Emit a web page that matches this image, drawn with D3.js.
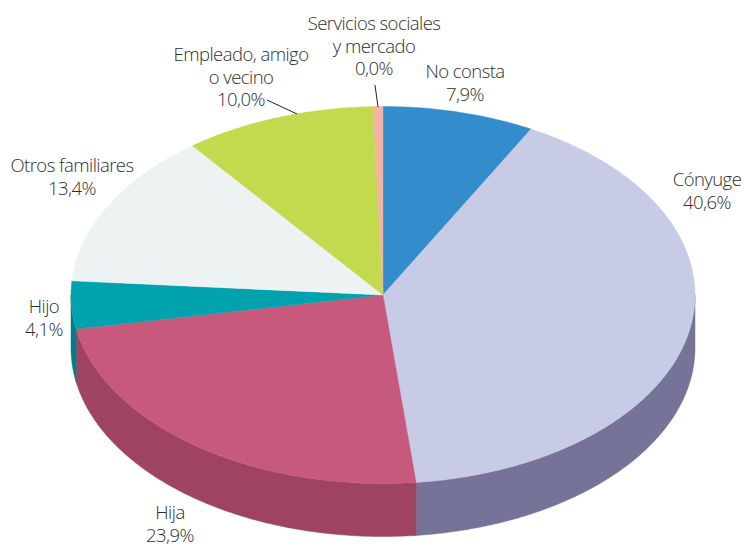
<!DOCTYPE html>
<html><head><meta charset="utf-8">
<script src="https://cdn.jsdelivr.net/npm/d3@7/dist/d3.min.js"></script>
<style>html,body{margin:0;padding:0;background:#fff}svg{display:block}
text{font-family:"Open Sans",sans-serif;font-weight:300;font-size:18.5px;letter-spacing:-0.55px;fill:#2e2e2e;text-anchor:middle}</style>
</head><body><svg id="c" width="744" height="546"></svg>
<script>
const categories = ["No consta","Cónyuge","Hija","Hijo","Otros familiares","Empleado, amigo o vecino","Servicios sociales y mercado"];
const percentLabels = ["7,9%","40,6%","23,9%","4,1%","13,4%","10,0%","0,0%"];
const sliceValues = [7.9,40.6,23.9,4.1,13.4,10.0,0.5];
const topColors = ["#338ccb","#c8cbe6","#c7597d","#00a3ad","#edf3f3","#c3da4f","#f4b3a4"];
const wallColors = ["#2a72a6","#767399","#9e4461","#007f87","#c2c8c8","#9fb240","#c79285"];

const labelLines = [["No consta"],["Cónyuge"],["Hija"],["Hijo"],["Otros familiares"],["Empleado, amigo","o vecino"],["Servicios sociales","y mercado"]];
const labelAnchors = [[465,78],[707,186],[170,519],[44,313],[72,172],[241,61],[374,30]];
const lineStep = 22.5;
const leaders = [[[267,100],[297,114]],[[375,85],[378,107]]];

const cx=383, cy=295, rx=312, ry=188.5, depth=53;
const svg=d3.select("#c");
const X=d3.scaleLinear().domain([-1,1]).range([cx-rx,cx+rx]);
const Y=d3.scaleLinear().domain([-1,1]).range([cy-ry,cy+ry]);
const pt=(a,dy=0)=>[X(Math.sin(a)),Y(-Math.cos(a))+dy];
const line=d3.line();
const arcs=d3.pie().sort(null).value(d=>d)(sliceValues);
const samples=(a0,a1)=>{const n=Math.max(2,Math.ceil((a1-a0)/0.01));return d3.range(n+1).map(i=>a0+(a1-a0)*i/n);};

// walls: only the front half of the ellipse (PI/2 .. 3PI/2) is visible
arcs.forEach((d,i)=>{
  const a0=Math.max(d.startAngle,Math.PI/2), a1=Math.min(d.endAngle,Math.PI*1.5);
  if(a1<=a0) return;
  const s=samples(a0,a1);
  const p=s.map(a=>pt(a)).concat(s.slice().reverse().map(a=>pt(a,depth)));
  svg.append("path").attr("d",line(p)+"Z").attr("fill",wallColors[i]).attr("stroke",wallColors[i]).attr("stroke-width",0.5);
});
// top
arcs.forEach((d,i)=>{
  const p=[[cx,cy]].concat(samples(d.startAngle,d.endAngle).map(a=>pt(a)));
  svg.append("path").attr("d",line(p)+"Z").attr("fill",topColors[i]).attr("stroke",topColors[i]).attr("stroke-width",0.4);
});
leaders.forEach(l=>svg.append("path").attr("d",line(l)).attr("stroke","#222").attr("stroke-width",1).attr("fill","none"));
categories.forEach((c,i)=>{
  const [x,y]=labelAnchors[i];
  const t=svg.append("text");
  labelLines[i].concat([percentLabels[i]]).forEach((s,k)=>t.append("tspan").attr("x",x).attr("y",y+k*lineStep).text(s));
});
</script></body></html>
